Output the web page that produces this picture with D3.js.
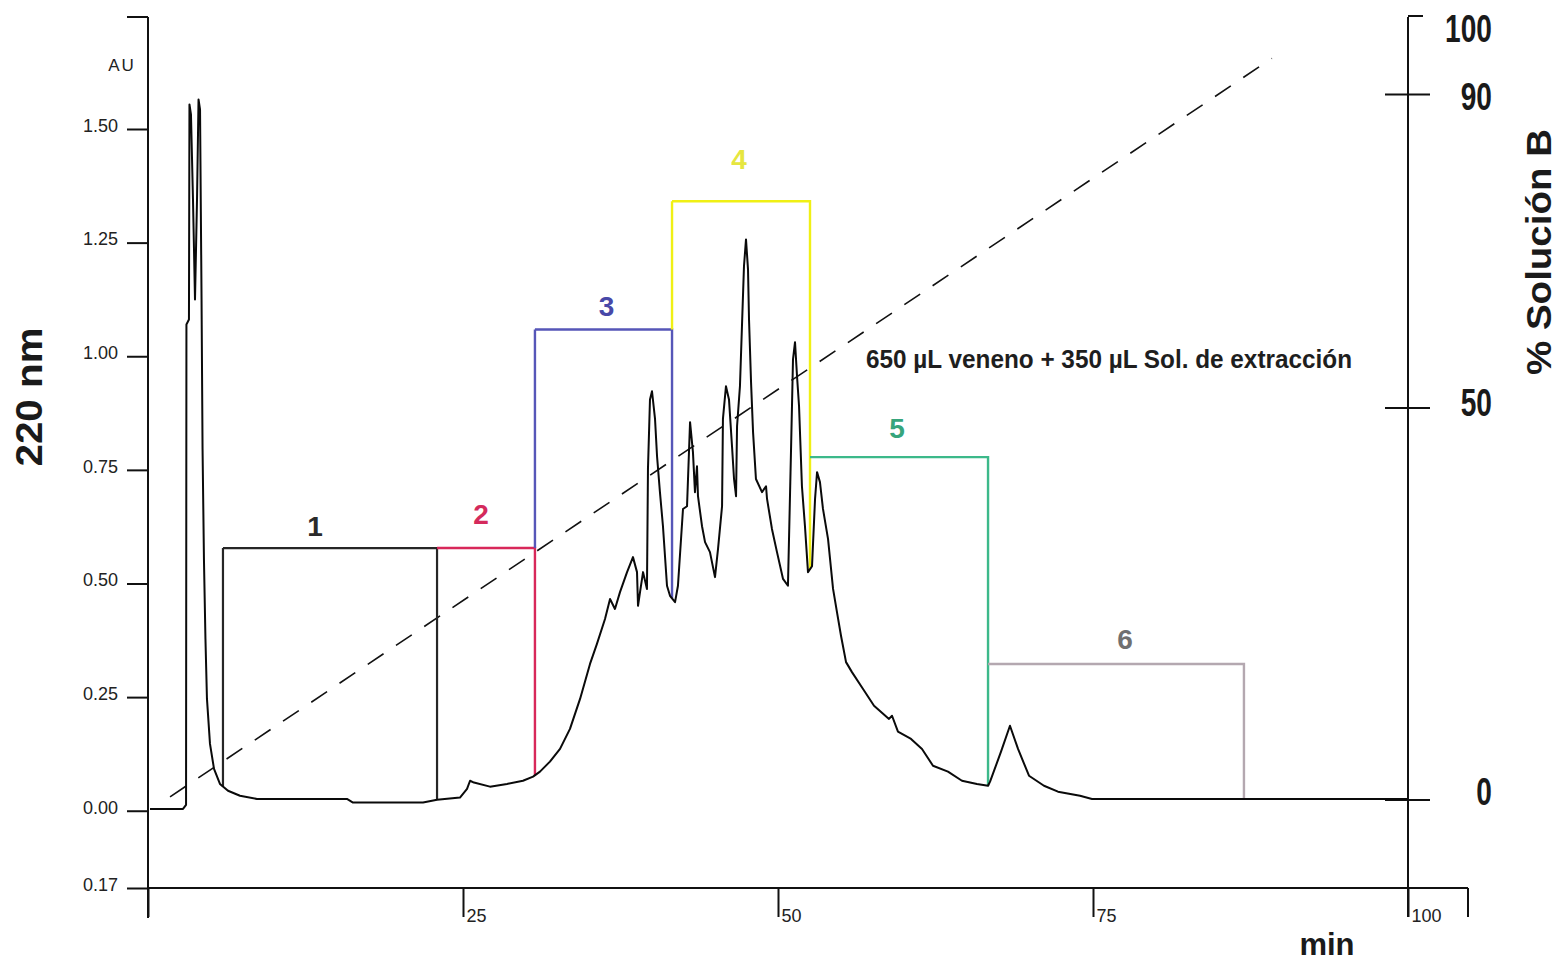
<!DOCTYPE html>
<html>
<head>
<meta charset="utf-8">
<script src="https://cdn.jsdelivr.net/npm/d3@7"></script>
<style>
  body { margin: 0; background: #fff; }
  text { font-family: "Liberation Sans", Arial, sans-serif; }
</style>
</head>
<body>
<div id="chart"></div>
<script>
// Chromatogram trace: time (min) and absorbance at 220 nm (AU)
var traceTime = [0.16, 2.78, 3.02, 3.05, 3.25, 3.29, 3.41, 3.57, 3.73, 3.89,
  4.01, 4.13, 4.25, 4.33, 4.44, 4.56, 4.68, 4.92, 5.24, 5.71,
  6.35, 7.30, 8.65, 15.79, 16.27, 21.83, 22.94, 24.76, 25.32, 25.56,
  25.87, 27.14, 28.49, 29.76, 30.56, 31.11, 31.90, 32.70, 33.49, 34.29,
  35.08, 35.63, 36.27, 36.67, 37.06, 37.46, 38.02, 38.49, 38.81, 38.89,
  39.05, 39.29, 39.60, 39.68, 39.84, 40.00, 40.24, 40.40, 40.63, 40.87,
  41.19, 41.43, 41.83, 42.06, 42.46, 42.78, 43.02, 43.25, 43.41, 43.57,
  43.65, 43.97, 44.21, 44.60, 45.00, 45.24, 45.56, 45.63, 45.87, 46.11,
  46.35, 46.51, 46.67, 46.75, 46.98, 47.14, 47.30, 47.46, 47.62, 47.70,
  47.86, 48.02, 48.25, 48.73, 49.05, 49.13, 49.52, 49.92, 50.40, 50.79,
  51.03, 51.19, 51.35, 51.51, 51.67, 51.90, 52.14, 52.38, 52.70, 52.94,
  53.10, 53.33, 53.57, 53.97, 54.37, 54.68, 55.00, 55.40, 55.87, 56.75,
  57.62, 58.81, 59.05, 59.52, 60.56, 61.43, 62.30, 63.49, 64.60, 65.79,
  66.67, 66.83, 67.70, 68.41, 69.05, 69.92, 71.11, 72.22, 73.97, 74.92,
  100];
var traceAU = [0.004, 0.004, 0.013, 1.070, 1.081, 1.554, 1.532, 1.345, 1.125, 1.345,
  1.565, 1.543, 1.125, 0.796, 0.554, 0.378, 0.246, 0.147, 0.092, 0.059,
  0.044, 0.033, 0.026, 0.026, 0.018, 0.018, 0.024, 0.029, 0.048, 0.066,
  0.062, 0.053, 0.059, 0.066, 0.075, 0.086, 0.108, 0.136, 0.180, 0.246,
  0.323, 0.367, 0.422, 0.466, 0.444, 0.481, 0.525, 0.558, 0.525, 0.451,
  0.481, 0.525, 0.488, 0.752, 0.905, 0.923, 0.862, 0.780, 0.701, 0.626,
  0.495, 0.473, 0.459, 0.495, 0.664, 0.670, 0.855, 0.789, 0.701, 0.758,
  0.692, 0.626, 0.591, 0.569, 0.514, 0.576, 0.670, 0.862, 0.934, 0.905,
  0.802, 0.730, 0.692, 0.846, 0.934, 1.066, 1.198, 1.257, 1.191, 1.081,
  0.943, 0.833, 0.730, 0.701, 0.714, 0.686, 0.620, 0.569, 0.510, 0.495,
  0.789, 0.993, 1.031, 0.956, 0.890, 0.714, 0.626, 0.525, 0.538, 0.686,
  0.745, 0.723, 0.664, 0.598, 0.488, 0.437, 0.385, 0.327, 0.305, 0.268,
  0.231, 0.202, 0.209, 0.174, 0.158, 0.136, 0.099, 0.086, 0.066, 0.059,
  0.055, 0.064, 0.130, 0.187, 0.136, 0.077, 0.055, 0.042, 0.033, 0.026,
  0.026];

// Gradient of solution B (%)
var gradTime = [1.75, 89.2];
var gradB = [0.4, 94.6];

// Collected fractions
var fracNames = ["1", "2", "3", "4", "5", "6"];
var fracStart = [5.95, 22.94, 30.71, 41.59, 52.54, 66.67];
var fracEnd = [22.94, 30.71, 41.59, 52.54, 66.67, 86.98];
var fracTop = [0.578, 0.578, 1.059, 1.341, 0.778, 0.323];
var fracColors = ["#262626", "#d8285a", "#5656b8", "#f0f014", "#3cb98a", "#b4a8b0"];
var fracTextColors = ["#2a2a2a", "#d42a5c", "#4848a8", "#e6e640", "#36a57c", "#707070"];

// Tick values
var auTicks = [-0.17, 0, 0.25, 0.5, 0.75, 1.0, 1.25, 1.5];
var timeTicks = [0, 25, 50, 75, 100];
var pctTicks = [0, 50, 90, 100];

var sampleNote = "650 \u00b5L veneno + 350 \u00b5L Sol. de extracci\u00f3n";

var svgWidth = 1562;
var svgHeight = 961;

var svg = d3.select("#chart")
  .append("svg")
  .attr("width", svgWidth)
  .attr("height", svgHeight)
  .style("display", "block");

// Scales
var xScale = d3.scaleLinear().domain([0, 100]).range([148, 1408]);
var yScale = d3.scaleLinear().domain([-0.17, 1.5]).range([888, 129]);
var bScale = d3.scaleLinear().domain([0, 100]).range([800, 16]);

var traceData = d3.zip(traceTime, traceAU);

function traceAt(t) {
  var i = d3.bisector(d => d[0]).left(traceData, t);
  if (i <= 0) return traceData[0][1];
  if (i >= traceData.length) return traceData[traceData.length - 1][1];
  var a = traceData[i - 1], b = traceData[i];
  return a[1] + (b[1] - a[1]) * (t - a[0]) / (b[0] - a[0]);
}

// Left axis (AU)
// ==============================
var leftAxis = d3.axisLeft(yScale)
  .tickValues(auTicks)
  .tickSize(21)
  .tickPadding(9)
  .tickFormat(d => Math.abs(d).toFixed(2));

var yAxis = svg.append("g")
  .attr("transform", "translate(148,0)")
  .call(leftAxis);
yAxis.select(".domain").remove();
yAxis.selectAll("line").attr("stroke", "#111").attr("stroke-width", 2);
yAxis.selectAll("text")
  .attr("dy", "0.13em")
  .style("font-size", "18px")
  .style("fill", "#222");

svg.append("line")
  .attr("x1", 148).attr("x2", 148)
  .attr("y1", 17).attr("y2", 918)
  .attr("stroke", "#111").attr("stroke-width", 2);
svg.append("line")
  .attr("x1", 127).attr("x2", 148)
  .attr("y1", 17).attr("y2", 17)
  .attr("stroke", "#111").attr("stroke-width", 2);

svg.append("text")
  .attr("x", 122).attr("y", 71)
  .attr("text-anchor", "middle")
  .style("font-size", "17px")
  .style("letter-spacing", "2px")
  .style("fill", "#222")
  .text("AU");

// Bottom axis (min)
// ==============================
var bottomAxis = d3.axisBottom(xScale)
  .tickValues(timeTicks)
  .tickSize(29)
  .tickFormat(d => d === 0 ? "" : d);

var xAxis = svg.append("g")
  .attr("transform", "translate(0,888)")
  .call(bottomAxis);
xAxis.select(".domain").remove();
xAxis.selectAll("line").attr("stroke", "#111").attr("stroke-width", 2);
xAxis.selectAll("text")
  .attr("text-anchor", "start")
  .attr("x", 3)
  .attr("y", 34)
  .attr("dy", 0)
  .style("font-size", "18px")
  .style("fill", "#222");

svg.append("line")
  .attr("x1", 148).attr("x2", 1468)
  .attr("y1", 888).attr("y2", 888)
  .attr("stroke", "#111").attr("stroke-width", 2);
svg.append("line")
  .attr("x1", 1468).attr("x2", 1468)
  .attr("y1", 888).attr("y2", 917)
  .attr("stroke", "#111").attr("stroke-width", 2);

// Right axis (% B)
// ==============================
svg.append("line")
  .attr("x1", 1408).attr("x2", 1408)
  .attr("y1", 17).attr("y2", 917)
  .attr("stroke", "#111").attr("stroke-width", 2);

var labelDrop = {0: 5, 50: 8, 90: 16, 100: 26};
pctTicks.forEach(function(p) {
  var yy = bScale(p);
  svg.append("line")
    .attr("x1", p === 100 ? 1408 : 1385)
    .attr("x2", p === 100 ? 1423 : 1430)
    .attr("y1", yy).attr("y2", yy)
    .attr("stroke", "#111").attr("stroke-width", 2);
  svg.append("text")
    .attr("transform", `translate(1492,${yy + labelDrop[p]}) scale(0.74,1)`)
    .attr("text-anchor", "end")
    .style("font-size", "38px")
    .style("font-weight", "bold")
    .style("fill", "#1a1a1a")
    .text(p);
});

// Axis titles
svg.append("text")
  .attr("transform", "translate(42,397) rotate(-90)")
  .attr("text-anchor", "middle")
  .attr("textLength", 139)
  .attr("lengthAdjust", "spacingAndGlyphs")
  .style("font-size", "37px")
  .style("font-weight", "bold")
  .style("fill", "#1a1a1a")
  .text("220 nm");

svg.append("text")
  .attr("transform", "translate(1551,252) rotate(-90)")
  .attr("text-anchor", "middle")
  .attr("textLength", 246)
  .attr("lengthAdjust", "spacingAndGlyphs")
  .style("font-size", "35px")
  .style("font-weight", "bold")
  .style("fill", "#1a1a1a")
  .text("% Soluci\u00f3n B");

svg.append("text")
  .attr("x", 1327).attr("y", 955)
  .attr("text-anchor", "middle")
  .style("font-size", "31px")
  .style("font-weight", "bold")
  .style("fill", "#1a1a1a")
  .text("min");

// Gradient (dashed)
// ==============================
svg.append("line")
  .attr("x1", xScale(gradTime[0])).attr("y1", bScale(gradB[0]))
  .attr("x2", xScale(gradTime[1])).attr("y2", bScale(gradB[1]))
  .attr("stroke", "#111")
  .attr("stroke-width", 1.6)
  .attr("stroke-dasharray", "19,15");

// Fractions
// ==============================
var labelShift = [-15, -5, 3, -2, -2, 9];
var labelLift = [12, 24, 13, 32, 19, 15];

fracNames.forEach(function(name, i) {
  var x0 = xScale(fracStart[i]);
  var x1 = xScale(fracEnd[i]);
  var yTop = yScale(fracTop[i]);
  var path = d3.path();
  path.moveTo(x0, yTop);
  path.lineTo(x1, yTop);
  path.lineTo(x1, yScale(traceAt(fracEnd[i])));
  if (i === 0) {
    path.moveTo(x0, yScale(traceAt(fracStart[i])));
    path.lineTo(x0, yTop);
  } else if (fracTop[i] > fracTop[i - 1]) {
    path.moveTo(x0, yScale(fracTop[i - 1]));
    path.lineTo(x0, yTop);
  }
  svg.append("path")
    .attr("d", path.toString())
    .attr("fill", "none")
    .attr("stroke", fracColors[i])
    .attr("stroke-width", i === 0 ? 2.2 : 2.4);

  svg.append("text")
    .attr("x", (x0 + x1) / 2 + labelShift[i])
    .attr("y", yTop - labelLift[i])
    .attr("text-anchor", "middle")
    .style("font-size", "28px")
    .style("font-weight", "bold")
    .style("fill", fracTextColors[i])
    .text(name);
});

// Trace
// ==============================
var line = d3.line()
  .x(d => xScale(d[0]))
  .y(d => yScale(d[1]));

svg.append("path")
  .datum(traceData)
  .attr("d", line)
  .attr("fill", "none")
  .attr("stroke", "#0a0a0a")
  .attr("stroke-width", 2)
  .attr("stroke-linejoin", "round");

// Sample note
svg.append("text")
  .attr("x", 866).attr("y", 368)
  .attr("textLength", 486)
  .attr("lengthAdjust", "spacingAndGlyphs")
  .style("font-family", "'Liberation Sans Narrow', 'Liberation Sans', Arial, sans-serif")
  .style("font-size", "26px")
  .style("font-weight", "bold")
  .style("fill", "#1e1e1e")
  .text(sampleNote);
</script>
</body>
</html>
